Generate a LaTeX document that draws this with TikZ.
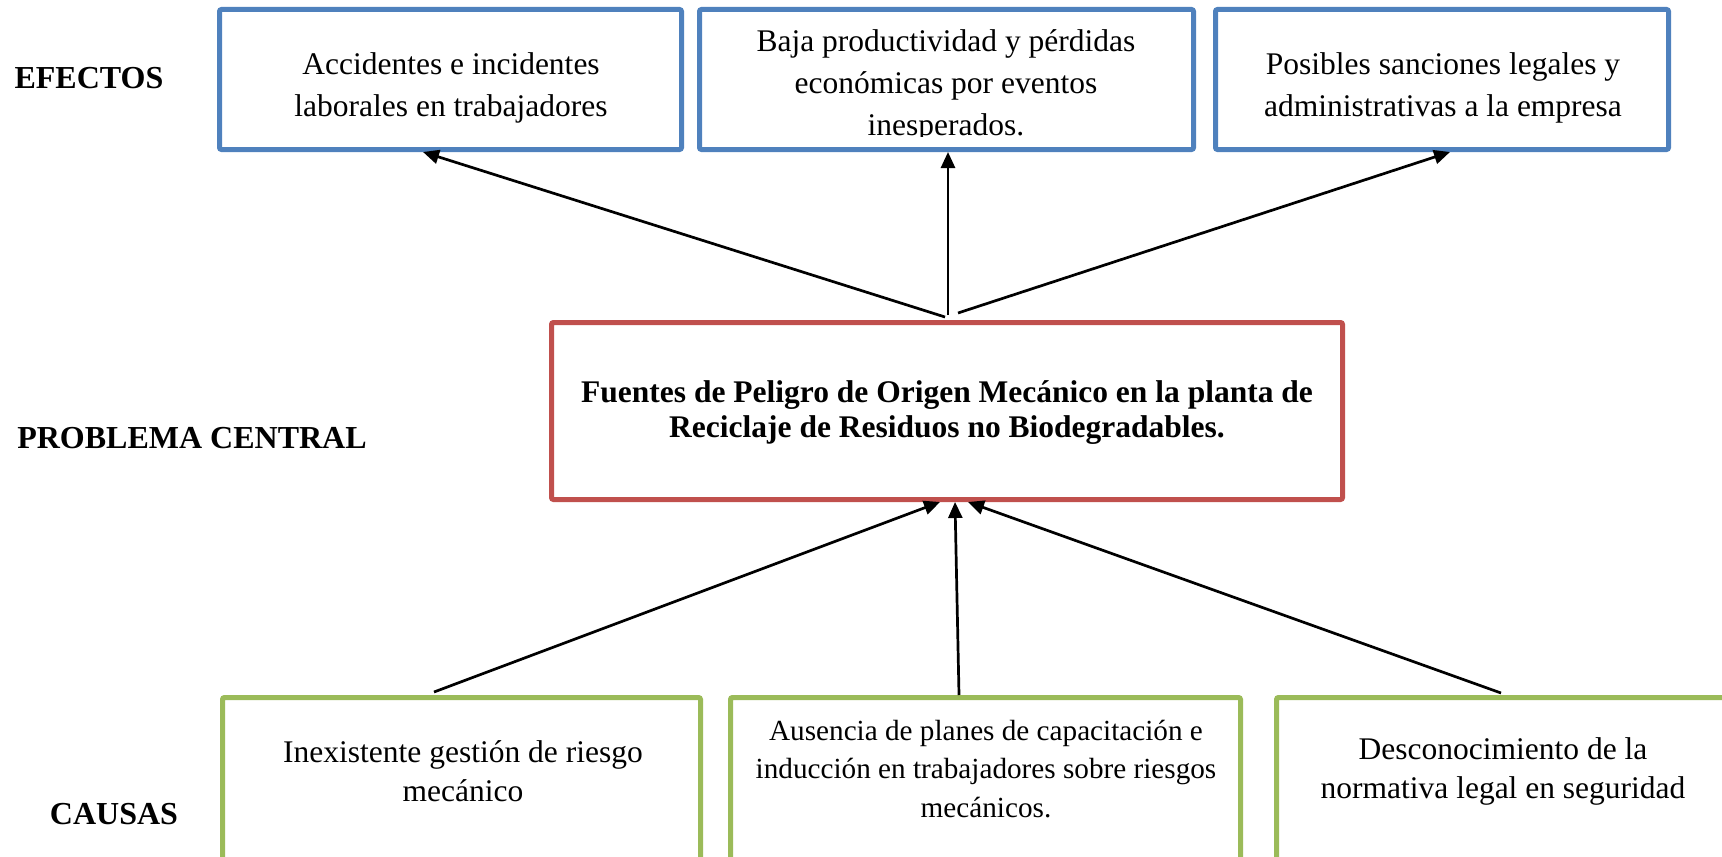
\documentclass[tikz,border=0pt]{standalone}
\usepackage{fontspec}
\setmainfont{Liberation Serif}
\usetikzlibrary{arrows.meta}
\definecolor{effblue}{RGB}{79,129,189}
\definecolor{probred}{RGB}{192,80,77}
\definecolor{causegreen}{RGB}{155,187,89}
\tikzset{
  boxbase/.style={draw, rectangle, line width=2.5pt, inner sep=0pt, rounded corners=1pt},
  effbox/.style={boxbase, draw=effblue, minimum height=70pt},
  probbox/.style={boxbase, draw=probred, minimum height=88.5pt, minimum width=395.5pt},
  causebox/.style={boxbase, draw=causegreen, minimum height=111.25pt},
  txt/.style={align=center, inner sep=0pt, font=\fontsize{15.75pt}{21pt}\selectfont},
  probtxt/.style={align=center, inner sep=0pt, font=\fontsize{15.75pt}{17.5pt}\selectfont\bfseries},
  causetxt/.style={align=center, inner sep=0pt, font=\fontsize{15.75pt}{19.5pt}\selectfont},
  causetxtsmall/.style={align=center, inner sep=0pt, font=\fontsize{14.6pt}{19.25pt}\selectfont},
  lbl/.style={inner sep=0pt, font=\fontsize{16pt}{18pt}\selectfont\bfseries},
  arr/.style={line width=1.35pt, -{Triangle[length=8pt,width=7pt]}}
}
\begin{document}
\begin{tikzpicture}[x=0.5pt,y=-0.5pt]
\useasboundingbox (0,0) rectangle (1722,856);
\begin{scope}
\clip (0,0) rectangle (1722,856);

% labels
\node[lbl] (lefe) at (89,78) {EFECTOS};
\node[lbl] (lpro) at (192,438) {PROBLEMA CENTRAL};
\node[lbl] (lcau) at (114,814) {CAUSAS};

% effect texts
\node[txt] (te1) at (451,87.5) {Accidentes e incidentes\\laborales en trabajadores};
\begin{scope}
\clip (700,12) rectangle (1192,136);
\node[txt] (te2) at (946,86) {Baja productividad y pérdidas\\económicas por eventos\\inesperados.};
\end{scope}
\node[txt] (te3) at (1443,87.5) {Posibles sanciones legales y\\administrativas a la empresa};

% effect boxes
\node[effbox, minimum width=231pt] (e1) at (450.5,79.5) {};
\node[effbox, minimum width=247pt] (e2) at (946.5,79.5) {};
\node[effbox, minimum width=226.5pt] (e3) at (1442,79.5) {};

% central problem
\node[probbox] (p) at (947,411) {};
\node[probtxt] (tp) at (947,413) {Fuentes de Peligro de Origen Mecánico en la planta de\\Reciclaje de Residuos no Biodegradables.};

% cause boxes
\node[causebox, minimum width=239pt] (c1) at (461.5,808.75) {};
\node[causebox, minimum width=255pt] (c2) at (985.5,808.75) {};
\node[causebox, minimum width=241.75pt] (c3) at (1518.25,808.75) {};
\node[causetxt] (tc1) at (463,771) {Inexistente gestión de riesgo\\mecánico};
\node[causetxtsmall] (tc2) at (986,769) {Ausencia de planes de capacitación e\\inducción en trabajadores sobre riesgos\\mecánicos.};
\node[causetxt] (tc3) at (1503,771) {Desconocimiento de la\\normativa legal en seguridad};

% free ends of connectors
\coordinate (s1) at (945,317);
\coordinate (s2) at (948,315);
\coordinate (s3) at (958,313);
\coordinate (u1) at (434,692);
\coordinate (u2) at (959,695);
\coordinate (u3) at (1501,693);

% effect arrows
\draw[arr] (s1) -- ([xshift=-13.75pt]e1.south);
\draw[arr] (s2) -- ([xshift=0.75pt]e2.south);
\draw[arr] (s3) -- ([xshift=4pt]e3.south);

% cause arrows
\draw[arr] (u1) -- ([xshift=-3.5pt]p.south);
\draw[arr] (u2) -- ([xshift=4pt]p.south);
\draw[arr] (u3) -- ([xshift=10.5pt]p.south);
\end{scope}
\end{tikzpicture}
\end{document}
